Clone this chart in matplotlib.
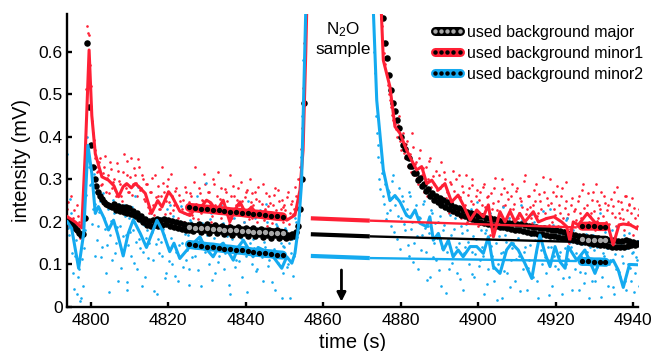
import numpy as np
import matplotlib
matplotlib.use('Agg')
from matplotlib import pyplot as plt
from matplotlib.lines import Line2D
from matplotlib.legend_handler import HandlerTuple

plt.rcParams['font.family'] = ['Liberation Sans', 'DejaVu Sans']
plt.rcParams['mathtext.default'] = 'regular'

RED = '#ff2035'
BLUE = '#14aaf0'
GRAY = '#a8a8a8'

# raw data, 0.5 s sampling, before and after the sample
t_left = np.arange(4794, 4855.6, 0.5)
t_right = np.arange(4873, 4941.6, 0.5)
# the minor channels have a second reading in between
t_left_b = t_left + 0.25
t_right_b = t_right + 0.25

major_left = [0.205, 0.200, 0.198, 0.192, 0.186, 0.180, 0.175, 0.170,
              0.172, 0.21, 0.62, 0.47, 0.38, 0.33, 0.30, 0.285,
              0.27, 0.262, 0.253, 0.247, 0.243, 0.240, 0.238, 0.236,
              0.243, 0.228, 0.238, 0.226, 0.236, 0.224, 0.234, 0.221,
              0.232, 0.218, 0.226, 0.214, 0.222, 0.206, 0.213, 0.199,
              0.206, 0.192, 0.201, 0.190, 0.204, 0.193, 0.206, 0.191,
              0.205, 0.192, 0.207, 0.194, 0.204, 0.190, 0.202, 0.188,
              0.200, 0.185, 0.197, 0.183, 0.195, 0.181, 0.193, 0.180,
              0.193, 0.178, 0.190, 0.183, 0.196, 0.176, 0.188, 0.181,
              0.194, 0.175, 0.187, 0.180, 0.192, 0.173, 0.185, 0.179,
              0.190, 0.172, 0.184, 0.177, 0.189, 0.170, 0.183, 0.176,
              0.188, 0.169, 0.181, 0.175, 0.186, 0.168, 0.180, 0.173,
              0.185, 0.166, 0.178, 0.172, 0.184, 0.164, 0.176, 0.170,
              0.182, 0.163, 0.175, 0.169, 0.180, 0.162, 0.174, 0.167,
              0.176, 0.161, 0.170, 0.165, 0.172, 0.168, 0.176, 0.190,
              0.23, 0.30, 0.48, 0.85]
major_right = [0.95, 0.93, 0.90, 0.85, 0.78, 0.68, 0.62, 0.585,
               0.545, 0.51, 0.48, 0.46, 0.44, 0.42, 0.40, 0.38,
               0.372, 0.352, 0.350, 0.332, 0.331, 0.314, 0.315, 0.299,
               0.302, 0.285, 0.290, 0.273, 0.278, 0.262, 0.268, 0.252,
               0.262, 0.247, 0.256, 0.240, 0.251, 0.236, 0.246, 0.231,
               0.240, 0.226, 0.236, 0.221, 0.232, 0.217, 0.228, 0.213,
               0.224, 0.209, 0.221, 0.206, 0.218, 0.203, 0.215, 0.200,
               0.213, 0.198, 0.210, 0.195, 0.208, 0.193, 0.206, 0.191,
               0.204, 0.189, 0.202, 0.187, 0.200, 0.185, 0.198, 0.183,
               0.197, 0.182, 0.195, 0.180, 0.194, 0.178, 0.192, 0.177,
               0.191, 0.175, 0.189, 0.174, 0.188, 0.172, 0.186, 0.171,
               0.185, 0.169, 0.183, 0.168, 0.182, 0.166, 0.180, 0.165,
               0.179, 0.163, 0.177, 0.162, 0.175, 0.160, 0.172, 0.158,
               0.170, 0.155, 0.168, 0.153, 0.167, 0.152, 0.165, 0.150,
               0.164, 0.149, 0.163, 0.147, 0.162, 0.146, 0.160, 0.145,
               0.159, 0.144, 0.158, 0.142, 0.157, 0.141, 0.156, 0.140,
               0.155, 0.140, 0.157, 0.143, 0.154, 0.145, 0.152, 0.146,
               0.150, 0.148]

minor1_left = [0.23, 0.19, 0.26, 0.21, 0.18, 0.24, 0.20, 0.17,
               0.19, 0.35, 0.66, 0.64, 0.52, 0.41, 0.37, 0.33,
               0.32, 0.35, 0.29, 0.33, 0.27, 0.31, 0.34, 0.28,
               0.30, 0.26, 0.32, 0.29, 0.25, 0.36, 0.28, 0.31,
               0.27, 0.35, 0.29, 0.31, 0.26, 0.33, 0.28, 0.30,
               0.25, 0.29, 0.22, 0.27, 0.24, 0.31, 0.21, 0.26,
               0.23, 0.33, 0.27, 0.25, 0.30, 0.22, 0.26, 0.24,
               0.28, 0.21, 0.25, 0.23, 0.20, 0.27, 0.24, 0.22,
               0.26, 0.21, 0.33, 0.24, 0.28, 0.22, 0.25, 0.29,
               0.23, 0.27, 0.20, 0.30, 0.24, 0.26, 0.22, 0.28,
               0.25, 0.19, 0.27, 0.23, 0.31, 0.21, 0.26, 0.24,
               0.28, 0.22, 0.25, 0.20, 0.27, 0.23, 0.30, 0.21,
               0.24, 0.27, 0.20, 0.25, 0.22, 0.29, 0.23, 0.19,
               0.26, 0.22, 0.24, 0.28, 0.21, 0.25, 0.23, 0.20,
               0.24, 0.21, 0.27, 0.22, 0.25, 0.23, 0.26, 0.30,
               0.33, 0.42, 0.62, 0.85]
minor1_left_b = [0.247, 0.205, 0.182, 0.228, 0.196, 0.214, 0.163, 0.221,
                 0.236, 0.512, 0.645, 0.568, 0.438, 0.392, 0.351, 0.318,
                 0.341, 0.287, 0.314, 0.356, 0.302, 0.268, 0.325, 0.293,
                 0.274, 0.338, 0.296, 0.262, 0.318, 0.287, 0.342, 0.271,
                 0.305, 0.263, 0.327, 0.292, 0.349, 0.276, 0.311, 0.254,
                 0.288, 0.236, 0.271, 0.302, 0.217, 0.258, 0.284, 0.231,
                 0.262, 0.291, 0.218, 0.284, 0.246, 0.312, 0.229, 0.273,
                 0.238, 0.264, 0.192, 0.251, 0.283, 0.219, 0.247, 0.268,
                 0.217, 0.294, 0.243, 0.206, 0.268, 0.251, 0.312, 0.232,
                 0.271, 0.245, 0.214, 0.289, 0.236, 0.318, 0.253, 0.209,
                 0.232, 0.277, 0.248, 0.196, 0.262, 0.285, 0.219, 0.251,
                 0.239, 0.293, 0.216, 0.258, 0.274, 0.207, 0.246, 0.268,
                 0.213, 0.254, 0.281, 0.226, 0.243, 0.205, 0.267, 0.238,
                 0.244, 0.198, 0.263, 0.229, 0.276, 0.217, 0.252, 0.234,
                 0.227, 0.258, 0.196, 0.243, 0.219, 0.281, 0.235, 0.264,
                 0.372, 0.514, 0.73, 0.92]
minor1_right = [0.95, 0.95, 0.95, 0.90, 0.72, 0.62, 0.57, 0.55,
                0.50, 0.47, 0.44, 0.43, 0.40, 0.45, 0.37, 0.41,
                0.35, 0.39, 0.33, 0.36, 0.41, 0.31, 0.34, 0.29,
                0.37, 0.31, 0.27, 0.33, 0.30, 0.35, 0.26, 0.29,
                0.32, 0.25, 0.28, 0.34, 0.24, 0.30, 0.27, 0.22,
                0.29, 0.32, 0.23, 0.26, 0.31, 0.21, 0.27, 0.24,
                0.20, 0.28, 0.25, 0.30, 0.22, 0.26, 0.19, 0.27,
                0.24, 0.29, 0.21, 0.26, 0.17, 0.23, 0.28, 0.20,
                0.25, 0.22, 0.30, 0.19, 0.24, 0.27, 0.21, 0.26,
                0.23, 0.18, 0.28, 0.22, 0.25, 0.20, 0.31, 0.23,
                0.26, 0.21, 0.24, 0.19, 0.29, 0.22, 0.25, 0.18,
                0.27, 0.21, 0.24, 0.30, 0.20, 0.23, 0.26, 0.19,
                0.22, 0.28, 0.18, 0.25, 0.21, 0.15, 0.24, 0.20,
                0.23, 0.19, 0.26, 0.21, 0.29, 0.17, 0.24, 0.20,
                0.22, 0.27, 0.18, 0.25, 0.21, 0.23, 0.19, 0.26,
                0.20, 0.24, 0.16, 0.22, 0.27, 0.19, 0.25, 0.21,
                0.23, 0.18, 0.26, 0.20, 0.24, 0.22, 0.17, 0.21,
                0.19, 0.23]
minor1_right_b = [0.95, 0.95, 0.93, 0.81, 0.66, 0.598, 0.587, 0.521,
                  0.486, 0.452, 0.463, 0.418, 0.427, 0.389, 0.394, 0.362,
                  0.384, 0.331, 0.357, 0.318, 0.376, 0.336, 0.302, 0.351,
                  0.284, 0.327, 0.295, 0.262, 0.344, 0.281, 0.307, 0.253,
                  0.276, 0.311, 0.239, 0.287, 0.318, 0.256, 0.229, 0.294,
                  0.247, 0.272, 0.301, 0.218, 0.259, 0.284, 0.236, 0.311,
                  0.263, 0.224, 0.287, 0.241, 0.206, 0.274, 0.252, 0.213,
                  0.281, 0.236, 0.258, 0.194, 0.267, 0.245, 0.302, 0.228,
                  0.214, 0.266, 0.238, 0.279, 0.201, 0.253, 0.231, 0.289,
                  0.243, 0.272, 0.209, 0.256, 0.234, 0.297, 0.218, 0.261,
                  0.236, 0.198, 0.274, 0.249, 0.213, 0.266, 0.231, 0.305,
                  0.222, 0.257, 0.193, 0.245, 0.271, 0.216, 0.284, 0.239,
                  0.261, 0.208, 0.232, 0.293, 0.219, 0.184, 0.257, 0.226,
                  0.204, 0.248, 0.221, 0.276, 0.232, 0.195, 0.268, 0.213,
                  0.251, 0.226, 0.288, 0.203, 0.239, 0.271, 0.214, 0.244,
                  0.229, 0.196, 0.254, 0.238, 0.211, 0.283, 0.222, 0.247,
                  0.206, 0.262, 0.228, 0.241, 0.195, 0.257, 0.232, 0.186,
                  0.216, 0.248]

minor2_left = [0.36, 0.17, 0.22, 0.08, 0.12, 0.03, 0.09, 0.02,
               0.05, 0.18, 0.40, 0.33, 0.29, 0.23, 0.12, 0.27,
               0.19, 0.25, 0.14, 0.21, 0.08, 0.23, 0.17, 0.11,
               0.22, 0.15, 0.06, 0.19, 0.13, 0.24, 0.17, 0.04,
               0.21, 0.12, 0.18, 0.26, 0.09, 0.16, 0.20, 0.13,
               0.07, 0.18, 0.15, 0.22, 0.11, 0.19, 0.03, 0.16,
               0.21, 0.12, 0.17, 0.08, 0.14, 0.24, 0.10, 0.19,
               0.13, 0.06, 0.18, 0.15, 0.22, 0.11, 0.17, 0.09,
               0.20, 0.14, 0.12, 0.26, 0.16, 0.05, 0.19, 0.13,
               0.17, 0.10, 0.22, 0.14, 0.08, 0.18, 0.12, 0.24,
               0.15, 0.09, 0.19, 0.13, 0.03, 0.16, 0.21, 0.11,
               0.18, 0.14, 0.07, 0.20, 0.12, 0.25, 0.15, 0.10,
               0.16, 0.21, 0.09, 0.13, 0.18, 0.06, 0.14, 0.20,
               0.11, 0.17, 0.13, 0.04, 0.19, 0.12, 0.15, 0.08,
               0.14, 0.18, 0.10, 0.02, 0.16, 0.12, 0.20, 0.26,
               0.30, 0.45, 0.75, 0.95]
minor2_left_b = [0.186, 0.254, 0.128, 0.043, 0.157, 0.071, 0.015, 0.112,
                 0.138, 0.264, 0.352, 0.287, 0.196, 0.312, 0.243, 0.158,
                 0.224, 0.117, 0.268, 0.183, 0.146, 0.035, 0.201, 0.252,
                 0.128, 0.187, 0.243, 0.092, 0.167, 0.214, 0.058, 0.146,
                 0.177, 0.236, 0.104, 0.153, 0.282, 0.138, 0.049, 0.193,
                 0.162, 0.114, 0.227, 0.176, 0.038, 0.148, 0.204, 0.127,
                 0.152, 0.184, 0.067, 0.231, 0.108, 0.163, 0.214, 0.072,
                 0.189, 0.146, 0.238, 0.094, 0.171, 0.133, 0.052, 0.205,
                 0.118, 0.178, 0.233, 0.087, 0.154, 0.198, 0.136, 0.291,
                 0.143, 0.207, 0.064, 0.161, 0.227, 0.105, 0.186, 0.148,
                 0.197, 0.126, 0.168, 0.052, 0.214, 0.137, 0.094, 0.178,
                 0.109, 0.163, 0.226, 0.141, 0.036, 0.182, 0.127, 0.213,
                 0.138, 0.085, 0.174, 0.227, 0.117, 0.153, 0.241, 0.097,
                 0.162, 0.058, 0.137, 0.196, 0.103, 0.174, 0.021, 0.143,
                 0.186, 0.093, 0.151, 0.128, 0.072, 0.209, 0.164, 0.217,
                 0.352, 0.58, 0.86, 0.95]
minor2_right = [0.60, 0.45, 0.38, 0.30, 0.34, 0.26, 0.29, 0.22,
                0.27, 0.19, 0.31, 0.24, 0.16, 0.28, 0.21, 0.25,
                0.18, 0.23, 0.12, 0.26, 0.20, 0.15, 0.24, 0.09,
                0.21, 0.17, 0.25, 0.13, 0.19, 0.07, 0.22, 0.15,
                0.11, 0.20, 0.16, 0.05, 0.18, 0.24, 0.13, 0.09,
                0.17, 0.12, 0.21, 0.08, 0.15, 0.19, 0.04, 0.14,
                0.18, 0.10, 0.23, 0.13, 0.07, 0.16, 0.20, 0.11,
                0.14, 0.03, 0.18, 0.09, 0.22, 0.12, 0.06, 0.15,
                0.10, 0.19, 0.02, 0.13, 0.17, 0.08, 0.21, 0.11,
                0.15, 0.06, 0.18, 0.12, 0.24, 0.09, 0.14, 0.04,
                0.11, 0.17, 0.07, 0.20, 0.13, 0.02, 0.16, 0.10,
                0.19, 0.08, 0.14, 0.23, 0.05, 0.12, 0.17, 0.09,
                0.13, 0.03, 0.16, 0.10, 0.21, 0.07, 0.14, 0.18,
                0.09, 0.15, 0.04, 0.12, 0.19, 0.08, 0.13, 0.02,
                0.11, 0.17, 0.06, 0.14, 0.10, 0.22, 0.07, 0.12,
                0.16, 0.05, 0.11, 0.18, 0.03, 0.09, 0.14, 0.07,
                0.12, 0.17, 0.04, 0.10, 0.15, 0.06, 0.13, 0.08,
                0.11, 0.05]
minor2_right_b = [0.55, 0.41, 0.352, 0.278, 0.316, 0.243, 0.207, 0.274,
                  0.228, 0.297, 0.176, 0.255, 0.213, 0.137, 0.262, 0.194,
                  0.218, 0.146, 0.271, 0.183, 0.105, 0.226, 0.167, 0.212,
                  0.134, 0.243, 0.186, 0.064, 0.173, 0.227, 0.118, 0.198,
                  0.163, 0.087, 0.214, 0.138, 0.192, 0.032, 0.156, 0.217,
                  0.104, 0.184, 0.142, 0.226, 0.066, 0.173, 0.128, 0.195,
                  0.152, 0.213, 0.078, 0.166, 0.124, 0.247, 0.097, 0.182,
                  0.121, 0.173, 0.053, 0.208, 0.143, 0.092, 0.186, 0.016,
                  0.167, 0.128, 0.234, 0.084, 0.152, 0.197, 0.046, 0.138,
                  0.182, 0.113, 0.163, 0.037, 0.204, 0.129, 0.176, 0.091,
                  0.146, 0.218, 0.104, 0.158, 0.062, 0.187, 0.133, 0.226,
                  0.117, 0.169, 0.028, 0.142, 0.193, 0.096, 0.158, 0.121,
                  0.174, 0.067, 0.138, 0.204, 0.113, 0.152, 0.041, 0.167,
                  0.126, 0.193, 0.083, 0.148, 0.057, 0.171, 0.118, 0.142,
                  0.061, 0.134, 0.188, 0.093, 0.157, 0.024, 0.128, 0.176,
                  0.138, 0.102, 0.163, 0.047, 0.124, 0.187, 0.083, 0.151,
                  0.104, 0.062, 0.138, 0.173, 0.091, 0.126, 0.036, 0.118,
                  0.154, 0.081]

# smoothed minor signals
m1_t_left = [4794, 4796, 4797.7, 4798.6, 4799.6, 4800.3, 4801.2, 4802.9, 4804.6, 4806,
             4807.2, 4808.4, 4809.3, 4810.5, 4811.5, 4812.4, 4814.1, 4815.7, 4817.3, 4818.4,
             4820.1, 4821, 4823, 4825.6, 4827, 4828.5, 4829.9, 4831, 4832.5, 4834.2,
             4835.9, 4837, 4838.5, 4840, 4841.5, 4843, 4845, 4847, 4849, 4850.6,
             4852.7, 4854, 4854.8, 4855.5, 4856]
m1_y_left = [0.212, 0.200, 0.186, 0.36, 0.604, 0.45, 0.36, 0.306, 0.298, 0.285,
             0.259, 0.283, 0.29, 0.28, 0.29, 0.283, 0.267, 0.22, 0.25, 0.235,
             0.271, 0.26, 0.225, 0.215, 0.232, 0.235, 0.251, 0.245, 0.225, 0.251,
             0.20, 0.225, 0.247, 0.22, 0.235, 0.215, 0.225, 0.215, 0.213, 0.204,
             0.216, 0.275, 0.369, 0.60, 0.80]
m1_t_right = [4874.5, 4875.5, 4877.2, 4878.5, 4879.8, 4881.5, 4882.8, 4884.1, 4885.4, 4886.7,
              4888, 4889.7, 4891.4, 4893.1, 4894.8, 4896.1, 4897.9, 4899.6, 4901.3, 4902.6,
              4903.9, 4905.6, 4906.9, 4908.2, 4909.5, 4910.7, 4912, 4914.2, 4915.5, 4917.6,
              4919.5, 4921.5, 4922.8, 4923.6, 4924.5, 4925.8, 4928.1, 4930, 4931.8, 4933.5,
              4934.8, 4936.3, 4937.4, 4939.2, 4941.7]
m1_y_right = [0.80, 0.58, 0.518, 0.424, 0.408, 0.369, 0.345, 0.322, 0.33, 0.29,
              0.298, 0.275, 0.29, 0.247, 0.263, 0.24, 0.204, 0.228, 0.212, 0.24,
              0.165, 0.224, 0.20, 0.225, 0.20, 0.22, 0.20, 0.224, 0.20, 0.208,
              0.212, 0.20, 0.189, 0.157, 0.20, 0.193, 0.22, 0.20, 0.189, 0.19,
              0.146, 0.193, 0.195, 0.193, 0.181]

m2_t_left = [4794, 4795.1, 4796.9, 4798.2, 4799.3, 4800.3, 4801.2, 4802, 4803.3, 4804.6,
             4805.9, 4807, 4808.4, 4809.7, 4811, 4812.8, 4814.4, 4815.8, 4817.1, 4818.5,
             4820.4, 4821.5, 4823, 4825.6, 4828.2, 4829.5, 4831.6, 4833, 4834.2, 4836.8,
             4838, 4839.4, 4841.9, 4843.2, 4844.5, 4847.1, 4849.3, 4850.6, 4851.9, 4852.7,
             4853.6, 4854.4, 4855.5, 4856]
m2_y_left = [0.200, 0.185, 0.091, 0.173, 0.38, 0.314, 0.22, 0.236, 0.212, 0.181,
             0.204, 0.17, 0.12, 0.173, 0.205, 0.173, 0.14, 0.173, 0.204, 0.18,
             0.13, 0.15, 0.114, 0.142, 0.165, 0.14, 0.118, 0.14, 0.15, 0.11,
             0.14, 0.157, 0.118, 0.14, 0.134, 0.118, 0.091, 0.118, 0.103, 0.126,
             0.189, 0.29, 0.70, 0.90]
m2_t_right = [4872.5, 4873.8, 4875.5, 4877.2, 4878.5, 4879.8, 4881.5, 4882.5, 4883.7, 4884.9,
              4886.7, 4887.5, 4888.4, 4889.7, 4891, 4892.3, 4893.5, 4894.8, 4896.1, 4897.9,
              4899.6, 4901.3, 4902.6, 4903.9, 4905.6, 4907.3, 4908.6, 4910.3, 4912, 4913.8,
              4915.1, 4915.9, 4917.2, 4918.5, 4919.8, 4921.1, 4922.4, 4923.2, 4925.4, 4927.5,
              4930.1, 4931.4, 4933.1, 4934.8, 4936.1, 4937.4, 4939, 4941.7]
m2_y_right = [0.80, 0.486, 0.322, 0.25, 0.262, 0.247, 0.215, 0.21, 0.228, 0.197,
              0.189, 0.212, 0.157, 0.173, 0.134, 0.157, 0.118, 0.134, 0.118, 0.142,
              0.142, 0.126, 0.165, 0.095, 0.079, 0.134, 0.15, 0.134, 0.103, 0.067,
              0.134, 0.169, 0.126, 0.095, 0.142, 0.106, 0.091, 0.142, 0.11, 0.134,
              0.079, 0.11, 0.099, 0.11, 0.087, 0.046, 0.10, 0.099]

# used background points
bg_t_left = [4825.5, 4827, 4828.5, 4830, 4831.5, 4833, 4834.5, 4836, 4837.5,
             4839, 4840.5, 4842, 4843.5, 4845, 4846.5, 4848, 4849.5]
bg_major_left = [0.187, 0.186, 0.185, 0.185, 0.184, 0.183, 0.182, 0.181, 0.180,
                 0.179, 0.178, 0.177, 0.176, 0.176, 0.175, 0.174, 0.173]
bg_minor1_left = [0.234, 0.233, 0.231, 0.230, 0.229, 0.227, 0.226, 0.224, 0.223,
                  0.222, 0.220, 0.219, 0.218, 0.216, 0.215, 0.213, 0.212]
bg_minor2_left = [0.147, 0.145, 0.144, 0.142, 0.141, 0.139, 0.137, 0.136, 0.134,
                  0.133, 0.131, 0.129, 0.128, 0.126, 0.125, 0.123, 0.122]
bg_t_right = [4926.8, 4928.3, 4929.8, 4931.3, 4932.8]
bg_major_right = [0.159, 0.158, 0.158, 0.157, 0.157]
bg_minor1_right = [0.190, 0.190, 0.190, 0.189, 0.189]
bg_minor2_right = [0.107, 0.107, 0.106, 0.106, 0.105]

# background under the sample peak
interp_t = [4856.8, 4872, 4925.4]
interp_major = [0.171, 0.166, 0.153]
interp_minor1 = [0.2085, 0.203, 0.187]
interp_minor2 = [0.120, 0.115, 0.108]

fig = plt.figure(figsize=(6.54, 3.51), dpi=100)
ax = fig.add_axes([67/654, 44/351, 571/654, 293/351])

for t, y in ((t_left, minor1_left), (t_left_b, minor1_left_b),
             (t_right, minor1_right), (t_right_b, minor1_right_b)):
    ax.plot(t, y, ls='none', marker='o', ms=1.9, mew=0, color=RED, zorder=1)
for t, y in ((t_left, minor2_left), (t_left_b, minor2_left_b),
             (t_right, minor2_right), (t_right_b, minor2_right_b)):
    ax.plot(t, y, ls='none', marker='o', ms=1.9, mew=0, color=BLUE, zorder=1)
for t, y in ((t_left, major_left), (t_right, major_right)):
    ax.plot(t, y, ls='none', marker='o', ms=4.7, mew=0, color='k', zorder=2)

ax.plot(m1_t_left, m1_y_left, color=RED, lw=2.2, zorder=3)
ax.plot(m1_t_right, m1_y_right, color=RED, lw=2.2, zorder=3)
ax.plot(m2_t_left, m2_y_left, color=BLUE, lw=2.2, zorder=3)
ax.plot(m2_t_right, m2_y_right, color=BLUE, lw=2.2, zorder=3)

for y, c in ((interp_minor1, RED), (interp_major, 'k'), (interp_minor2, BLUE)):
    ax.plot(interp_t[:2], y[:2], color=c, lw=3.0, solid_capstyle='butt', zorder=3)
    ax.plot(interp_t[1:], y[1:], color=c, lw=1.7, solid_capstyle='butt', zorder=3)

for t, ys in ((bg_t_left, (bg_major_left, bg_minor1_left, bg_minor2_left)),
              (bg_t_right, (bg_major_right, bg_minor1_right, bg_minor2_right))):
    for y, band, dot in zip(ys, ('k', RED, BLUE), (GRAY, 'k', 'k')):
        ax.plot(t, y, color=band, lw=6.5, solid_capstyle='round', zorder=4)
        ax.plot(t, y, ls='none', marker='o', ms=3.8, mew=0, color=dot, zorder=5)

ax.annotate('', xy=(4864.7, 0.0125), xytext=(4864.7, 0.087),
            arrowprops=dict(arrowstyle='-|>', lw=2, color='k', mutation_scale=13,
                            shrinkA=0, shrinkB=0))
ax.text(4865.1, 0.640, 'N$_2$O', ha='center', va='baseline', fontsize=12.3)
ax.text(4865.1, 0.5946, 'sample', ha='center', va='baseline', fontsize=12.3)

ax.set_xlim(4793.9, 4941.2)
ax.set_ylim(0, 0.6886)
ax.set_xticks([4800, 4820, 4840, 4860, 4880, 4900, 4920, 4940])
ax.set_yticks([0, 0.1, 0.2, 0.3, 0.4, 0.5, 0.6])
ax.set_yticklabels(['0', '0.1', '0.2', '0.3', '0.4', '0.5', '0.6'])
ax.spines['top'].set_visible(False)
ax.spines['right'].set_visible(False)
for s in ('left', 'bottom'):
    ax.spines[s].set_linewidth(1.7)
ax.tick_params(direction='in', length=3.6, width=1.7, labelsize=12.5)
ax.tick_params(axis='x', pad=4)
ax.tick_params(axis='y', pad=3)
ax.set_xlabel('time (s)', fontsize=14.5)
ax.set_ylabel('intensity (mV)', fontsize=14.5)
ax.xaxis.set_label_coords(0.5, -0.088)
ax.yaxis.set_label_coords(-0.063, 0.5)

h_major = (Line2D([], [], color='k', lw=6.5, solid_capstyle='round'),
           Line2D([], [], ls='none', marker='o', ms=3.2, mew=0, color=GRAY))
h_minor1 = (Line2D([], [], color=RED, lw=6.5, solid_capstyle='round'),
            Line2D([], [], ls='none', marker='o', ms=3.2, mew=0, color='k'))
h_minor2 = (Line2D([], [], color=BLUE, lw=6.5, solid_capstyle='round'),
            Line2D([], [], ls='none', marker='o', ms=3.2, mew=0, color='k'))
fig.legend([h_major, h_minor1, h_minor2],
           ['used background major', 'used background minor1', 'used background minor2'],
           handler_map={tuple: HandlerTuple(ndivide=1)}, numpoints=5,
           loc='upper left', bbox_to_anchor=(430/654, 1 - 25/351),
           frameon=False, borderpad=0, borderaxespad=0, fontsize=11.5,
           handlelength=2.16, handletextpad=0.15, labelspacing=0.36)

fig.savefig('out.png', dpi=100)
